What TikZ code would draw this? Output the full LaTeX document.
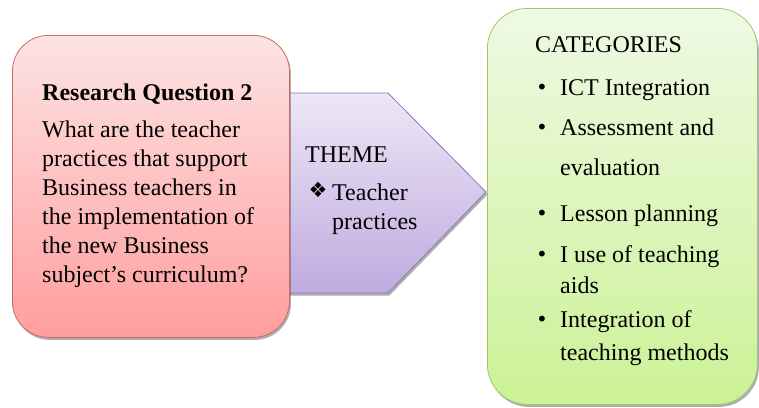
\documentclass[tikz,border=0pt]{standalone}
\usepackage{fontspec}
\setmainfont{Liberation Serif}
\newfontfamily\symbolfont{DejaVu Sans}
\usepackage{tikz}
\usetikzlibrary{shadows}

\definecolor{rqline}{HTML}{C86A68}
\definecolor{rqtop}{HTML}{FDE3E3}
\definecolor{rqbottom}{HTML}{FF9E9E}
\definecolor{themeline}{HTML}{8C78B8}
\definecolor{themetop}{HTML}{EDE7F6}
\definecolor{themebottom}{HTML}{C0AADF}
\definecolor{catline}{HTML}{A2C66A}
\definecolor{cattop}{HTML}{EFF9E4}
\definecolor{catbottom}{HTML}{CBF296}

\tikzset{
  boxshadow/.style={drop shadow={shadow xshift=1.5pt, shadow yshift=-2.5pt, opacity=0.45, fill=black!70}},
  txt/.style={inner sep=0pt, font=\fontsize{24}{29}\selectfont},
  dot/.style={inner sep=0pt, font=\symbolfont\fontsize{20}{20}\selectfont},
}

\begin{document}
\begin{tikzpicture}[x=1pt, y=-1pt]
  \useasboundingbox (0,0) rectangle (759,407);

  % theme arrow, behind the question box
  \coordinate (tip) at (486,192);
  \draw[themeline, line width=0.8pt, top color=themetop, bottom color=themebottom, boxshadow]
    (287,93) -- (388,93) -- (tip) -- (388,293) -- (287,293) -- cycle;

  % research question
  \node[rectangle, rounded corners=36pt, draw=rqline, line width=0.8pt, top color=rqtop, bottom color=rqbottom,
        boxshadow, minimum width=277pt, minimum height=302pt, anchor=north west] (rq) at (12,35) {};
  \node[txt, anchor=base west] (rqtitle) at (42,100) {\textbf{Research Question 2}};
  \node[txt, anchor=north west, align=left] (rqtext) at (42,120.6)
    {What are the teacher\\practices that support\\Business teachers in\\the implementation of\\the new Business\\subject’s curriculum?};

  % theme text
  \node[txt, anchor=base west] (theme) at (305,162) {THEME};
  \node[inner sep=0pt, font=\symbolfont\fontsize{21}{21}\selectfont] (diamonds) at (318,190) {❖};
  \node[txt, anchor=north west, align=left] (themetext) at (332,183.6) {Teacher\\practices};

  % categories
  \node[rectangle, rounded corners=40pt, draw=catline, line width=0.8pt, top color=cattop, bottom color=catbottom,
        boxshadow, minimum width=270pt, minimum height=396pt, anchor=north west] (cat) at (487,8) {};
  \node[txt, anchor=base west] (cattitle) at (535,52) {CATEGORIES};

  \node[dot] (b1) at (542,89) {•};
  \node[txt, anchor=base west] (c1) at (560,95) {ICT Integration};
  \node[dot] (b2) at (542,129) {•};
  \node[txt, anchor=base west] (c2) at (560,135) {Assessment and};
  \node[txt, anchor=base west] (c2b) at (560,175) {evaluation};
  \node[dot] (b3) at (542,215) {•};
  \node[txt, anchor=base west] (c3) at (560,221) {Lesson planning};
  \node[dot] (b4) at (542,256) {•};
  \node[txt, anchor=base west] (c4) at (560,262) {I use of teaching};
  \node[txt, anchor=base west] (c4b) at (560,293) {aids};
  \node[dot] (b5) at (542,321) {•};
  \node[txt, anchor=base west] (c5) at (560,327) {Integration of};
  \node[txt, anchor=base west] (c5b) at (560,360) {teaching methods};
\end{tikzpicture}
\end{document}
